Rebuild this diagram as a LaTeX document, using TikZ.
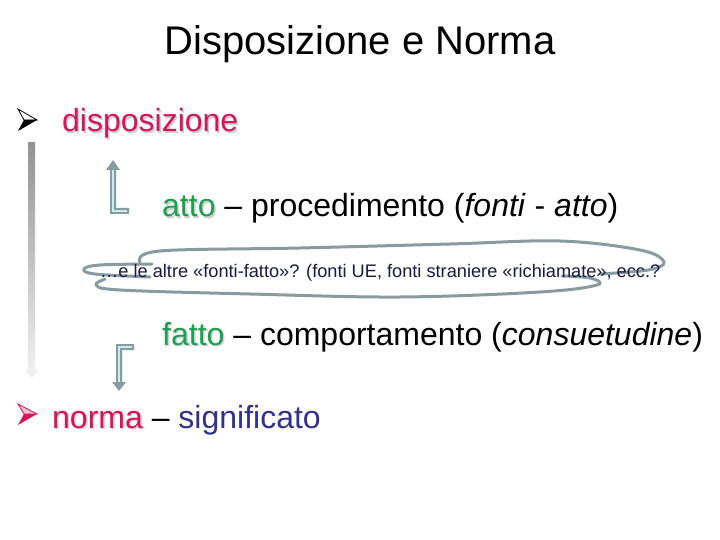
\documentclass[tikz,border=0pt]{standalone}
\usepackage{fontspec}
\setmainfont{Liberation Sans}
\usetikzlibrary{positioning}

\definecolor{rosso}{RGB}{214,20,90}
\definecolor{rosa}{RGB}{245,190,210}
\definecolor{verde}{RGB}{30,160,80}
\definecolor{blunotte}{RGB}{50,50,140}
\definecolor{bluscuro}{RGB}{25,25,70}
\definecolor{grigioverde}{RGB}{135,155,160}
\definecolor{azzurrino}{RGB}{200,238,240}
\definecolor{ombra}{RGB}{205,205,205}

\tikzset{
  testo/.style={anchor=base west, inner sep=0pt, font=\fontsize{32}{38}\selectfont},
  ombratesto/.style={testo, text=ombra},
  nuvola/.style={grigioverde, line width=3pt, line cap=round, line join=round},
  freccia/.style={fill=grigioverde, draw=none},
  anima/.style={azzurrino, line width=1.6pt},
}

\begin{document}
\begin{tikzpicture}[x=1pt,y=-1pt]

	%page
	\useasboundingbox[fill=white] (0,0) rectangle (720,540);

	%title
	\node[anchor=base, inner sep=0pt, font=\fontsize{40}{48}\selectfont] (titolo) at (360,55) {Disposizione e Norma};

	%first bullet
	\filldraw[black, line width=0.8pt, fill=white] (18,109) -- (37,120) -- (24,120) -- cycle;
	\fill[black] (24,120) -- (37,120) -- (18,131) -- cycle;
	\node[ombratesto] (disp0) at (63.5,133.5) {disposizione};
	\node[testo, text=rosso] (disp) at (62,132) {disposizione};

	%gradient bar
	\shade[top color=gray!85, bottom color=gray!12] (28,143) rectangle (35,371);
	\fill[gray!12] (24.5,370) -- (38.5,370) -- (31.5,378) -- cycle;

	%up arrow
	\fill[freccia] (113,160) -- (120,170) -- (116,170) -- (116,208) -- (129,208) -- (129,214) -- (110,214) -- (110,170) -- (106,170) -- cycle;
	\draw[anima] (127,211) -- (113,211) -- (113,170);

	\node[ombratesto] (atto0) at (163.5,218.5) {atto};
	\node[testo] (atto) at (162,217) {\textcolor{verde}{atto} -- procedimento (\textit{fonti} - \textit{atto})};

	%cloud
	\draw[nuvola] plot[smooth, tension=0.6] coordinates {(140,262) (160,251) (300,248) (450,244) (560,241) (640,250) (664,262) (648,270) (600,274)};
	\draw[nuvola] plot[smooth, tension=0.6] coordinates {(152,264) (100,265) (84,269) (95,274) (150,277)};
	\draw[nuvola] plot[smooth, tension=0.6] coordinates {(105,279) (96,285) (120,290) (250,294) (400,297) (540,292) (597,285) (590,278) (562,276)};
	\node[anchor=base west, inner sep=0pt, text=bluscuro, font=\fontsize{18.2}{22}\selectfont] (altre) at (100,277)
	  {…e le altre «fonti-fatto»? (fonti UE, fonti straniere «richiamate», ecc.?};

	\node[ombratesto] (fatto0) at (163.5,346.5) {fatto};
	\node[testo] (fatto) at (162,345) {\textcolor{verde}{fatto} -- comportamento (\textit{consuetudine})};

	%down arrow
	\fill[freccia] (134,344) -- (134,350) -- (122,350) -- (122,382) -- (126,382) -- (119,391) -- (112,382) -- (116,382) -- (116,344) -- cycle;
	\draw[anima] (132,347) -- (119,347) -- (119,382);

	%second bullet
	\filldraw[rosso, line width=0.8pt, fill=rosa] (18,404) -- (37,414) -- (24,414) -- cycle;
	\fill[rosso] (24,414) -- (37,414) -- (18,425) -- cycle;
	\node[ombratesto] (norma0) at (53.5,429.5) {norma};
	\node[testo] (norma) at (52,428) {\textcolor{rosso}{norma} -- \textcolor{blunotte}{significato}};

\end{tikzpicture}
\end{document}
